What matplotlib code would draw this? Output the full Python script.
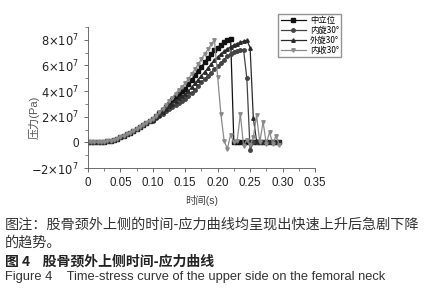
import numpy as np
import matplotlib
matplotlib.use('Agg')
import matplotlib.pyplot as plt
from matplotlib.ticker import MultipleLocator, FixedLocator

plt.rcParams['font.family'] = ['Liberation Sans', 'Noto Sans CJK SC', 'DejaVu Sans']

# stress values in 1e7 Pa, sampled every 0.005 s
rise_common = [0, 0, 0, 0, 0.01, 0.04, 0.08, 0.13, 0.2, 0.28, 0.4, 0.5, 0.62,
               0.75, 0.89, 1.04, 1.2, 1.37, 1.54, 1.7]

neutral = rise_common + [1.8, 2.02, 2.26, 2.5, 2.75, 3.0, 3.27, 3.53, 3.8, 4.0, 4.2,
                         4.55, 4.9, 5.25, 5.6, 5.9, 6.25, 6.6, 6.9, 7.2, 7.4, 7.6,
                         7.8, 7.95, 8.1, 0, 0, 0, 0, 0, 0, 0, 0, 0, 0, 0, 0, 0, 0, 0]
int_rot = rise_common + [1.7, 1.87, 2.05, 2.23, 2.42, 2.6, 2.78, 2.95, 3.1, 3.25, 3.4,
                         3.6, 3.85, 4.1, 4.4, 4.7, 4.95, 5.2, 5.45, 5.7, 5.95, 6.2,
                         6.45, 6.7, 6.9, 7.05, 7.15, 7.2, 7.2, 5.0, -0.6, 0, 0, 0,
                         0, 0, 0, 0, 0, 0]
ext_rot = rise_common + [1.75, 1.95, 2.15, 2.36, 2.58, 2.8, 3.02, 3.25, 3.45, 3.6, 3.75,
                         4.0, 4.3, 4.6, 4.9, 5.2, 5.5, 5.8, 6.1, 6.4, 6.65, 6.9,
                         7.1, 7.3, 7.45, 7.6, 7.7, 7.8, 7.9, 7.95, 7.4, 1.9, 0.1,
                         0, 0, 0, 0, 0, 0, 0]
adduct = rise_common + [1.85, 2.08, 2.35, 2.62, 2.9, 3.2, 3.5, 3.8, 4.1, 4.35, 4.6,
                        4.95, 5.35, 5.7, 6.1, 6.5, 6.9, 7.25, 7.65, 8.0, 5.1, 2.2,
                        0.1, -0.5, 0.6, 0.0, 0.1, 2.2, -0.3, 0.2, -0.2, 0.4, 2.1,
                        0.0, 1.6, -0.1, 0.8, -0.1, 0.5, -0.2]

labels = ['中立位', '内旋30°', '外旋30°', '内收30°']
series = [neutral, int_rot, ext_rot, adduct]
colors = ['#111111', '#444444', '#2a2a2a', '#8a8a8a']
markers = ['s', 'o', '^', 'v']

xticks = [0, 0.05, 0.10, 0.15, 0.20, 0.25, 0.30, 0.35]
xticklabels = ['0', '0.05', '0.10', '0.15', '0.20', '0.25', '0.30', '0.35']
yticks = [-2e7, 0, 2e7, 4e7, 6e7, 8e7]
yticklabels = [r'$-2{\times}10^7$', '0', r'$2{\times}10^7$',
               r'$4{\times}10^7$', r'$6{\times}10^7$', r'$8{\times}10^7$']

fig = plt.figure(figsize=(4.25, 3), dpi=100)
ax = fig.add_axes([0.207, 0.44, 0.534, 0.47])

for vals, lab, c, m in zip(series, labels, colors, markers):
    t = np.arange(len(vals)) * 0.005
    ax.plot(t, np.array(vals) * 1e7, color=c, marker=m, markersize=2.5,
            linewidth=0.9, label=lab)

ax.set_xlim(0, 0.35)
ax.set_ylim(-2e7, 9e7)
ax.xaxis.set_major_locator(FixedLocator(xticks))
ax.xaxis.set_minor_locator(MultipleLocator(0.025))
ax.set_xticklabels(xticklabels)
ax.yaxis.set_major_locator(FixedLocator(yticks))
ax.yaxis.set_minor_locator(MultipleLocator(1e7))
ax.set_yticklabels(yticklabels)
ax.tick_params(labelsize=8.3, length=3, width=0.6, color='#555555',
               labelcolor='#222222')
ax.tick_params(which='minor', length=2, width=0.5, color='#555555')
for s in ['top', 'right']:
    ax.spines[s].set_visible(False)
for s in ['left', 'bottom']:
    ax.spines[s].set_color('#555555')
    ax.spines[s].set_linewidth(0.6)

fig.text(0.08, 0.61, '压力(Pa)', rotation=90, ha='center', va='center',
         fontsize=8, color='#555555')
fig.text(0.475, 0.333, '时间(s)', ha='center', va='center', fontsize=7.5,
         color='#444444')

fig.legend(loc='upper left', bbox_to_anchor=(0.645, 0.968),
           frameon=True, fancybox=False, edgecolor='#777777', handlelength=3,
           borderpad=0.3, labelspacing=0.1, handletextpad=0.5,
           prop={'family': ['Noto Sans CJK SC', 'DejaVu Sans'], 'size': 6})

fig.text(0.012, 0.25, '图注：股骨颈外上侧的时间-应力曲线均呈现出快速上升后急剧下降',
         fontsize=10.2, va='center', color='#333333',
         family=['Noto Sans CJK SC', 'DejaVu Sans'])
fig.text(0.012, 0.193, '的趋势。', fontsize=10.2, va='center', color='#333333',
         family=['Noto Sans CJK SC', 'DejaVu Sans'])
fig.text(0.012, 0.13, '图 4    股骨颈外上侧时间-应力曲线', fontsize=10,
         va='center', color='#222222', fontweight='bold',
         family=['Noto Sans CJK SC', 'DejaVu Sans'])
fig.text(0.012, 0.077, 'Figure 4    Time-stress curve of the upper side on the femoral neck',
         fontsize=9.3, va='center', color='#333333')

fig.savefig('out.png', dpi=100)
